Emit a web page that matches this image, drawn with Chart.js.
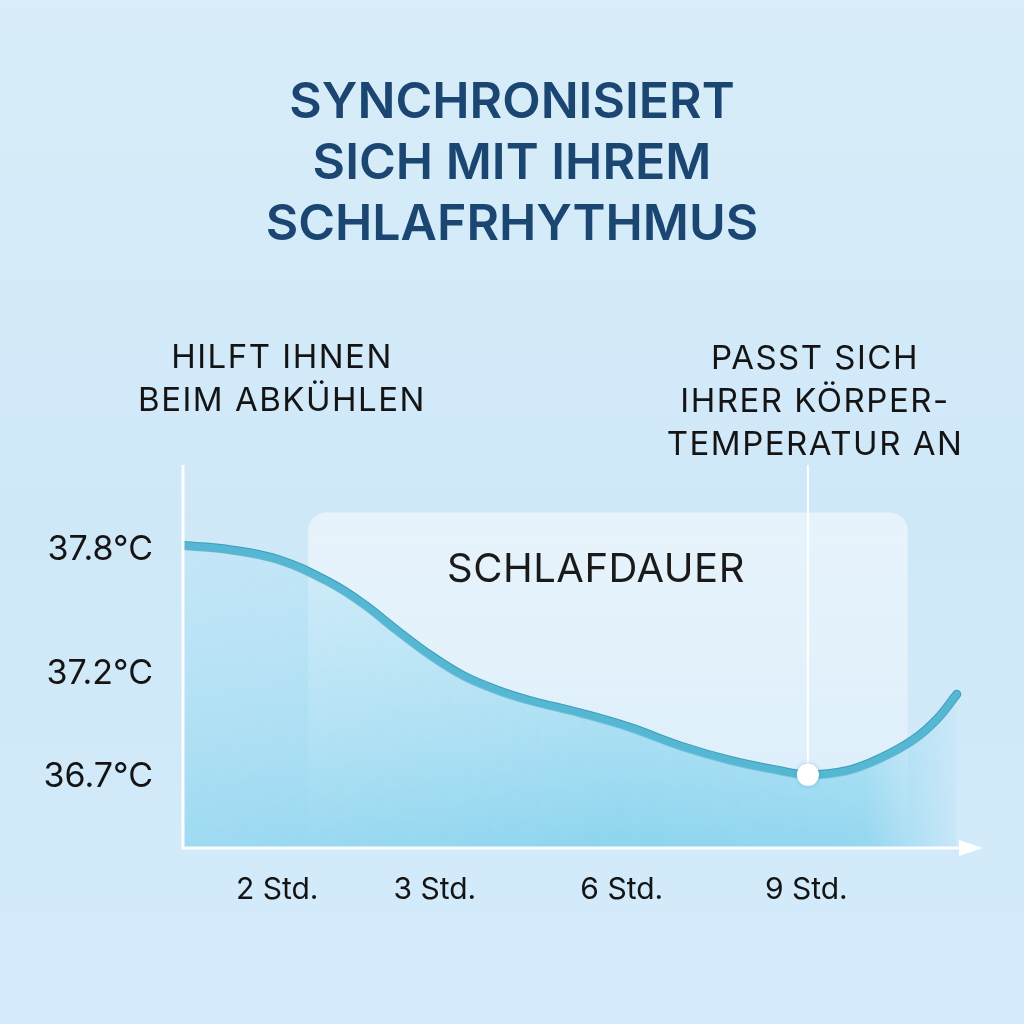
<!DOCTYPE html>
<html>
<head>
<meta charset="utf-8">
<script src="https://cdn.jsdelivr.net/npm/chart.js@4.4.1/dist/chart.umd.min.js"></script>
<style>
  html, body { margin: 0; padding: 0; background: #d3ebf9; }
  #chart { display: block; }
</style>
</head>
<body>
<canvas id="chart" width="1024" height="1024"></canvas>
<script>
// data
var titleLines = ['SYNCHRONISIERT', 'SICH MIT IHREM', 'SCHLAFRHYTHMUS'];
var leftNote = ['HILFT IHNEN', 'BEIM ABKÜHLEN'];
var rightNote = ['PASST SICH', 'IHRER KÖRPER-', 'TEMPERATUR AN'];
var boxLabel = 'SCHLAFDAUER';

var xTickPos = [1.19, 3.18, 5.54, 7.87];
var xTickLabels = ['2 Std.', '3 Std.', '6 Std.', '9 Std.'];
var yTicks = [37.8, 37.2, 36.7];

var timePos = [0, 0.59, 1.22, 1.86, 2.27, 2.70, 3.12, 3.54, 3.97, 4.38, 5.01, 5.64, 6.28, 6.91, 7.54, 7.89, 8.38, 8.80, 9.22, 9.52, 9.77];
var temps   = [37.82, 37.80, 37.75, 37.64, 37.54, 37.41, 37.29, 37.19, 37.12, 37.07, 37.01, 36.94, 36.85, 36.78, 36.73, 36.71, 36.73, 36.79, 36.88, 36.98, 37.10];
var markerIndex = 15;

var fontFamily = 'Inter, "Noto Sans", sans-serif';

var points = timePos.map(function(x, i){
    return { x: x, y: temps[i] };
});

// fill pattern: vertical gradient, faded out towards the right end
function makeFillPattern(){
    var c = document.createElement('canvas');
    c.width = 1024; c.height = 1024;
    var g = c.getContext('2d');
    var v = g.createLinearGradient(0, 540, 0, 860);
    v.addColorStop(0, 'rgba(175,225,245,0.45)');
    v.addColorStop(1, 'rgba(125,208,236,0.85)');
    g.fillStyle = v;
    g.fillRect(0, 0, 1024, 1024);
    g.globalCompositeOperation = 'destination-in';
    var h = g.createLinearGradient(183, 0, 975, 0);
    h.addColorStop(0, 'rgba(0,0,0,0.75)');
    h.addColorStop(0.55, 'rgba(0,0,0,1)');
    h.addColorStop(0.86, 'rgba(0,0,0,0.9)');
    h.addColorStop(1, 'rgba(0,0,0,0)');
    g.fillStyle = h;
    g.fillRect(0, 0, 1024, 1024);
    return document.getElementById('chart').getContext('2d').createPattern(c, 'no-repeat');
}

var backdrop = {
    id: 'backdrop',
    beforeDraw: function(chart){
        var ctx = chart.ctx;
        ctx.save();
        var bg = ctx.createLinearGradient(0, 0, 0, 1024);
        bg.addColorStop(0, '#d8edf9');
        bg.addColorStop(0.5, '#cfe8f8');
        bg.addColorStop(1, '#d3ebfa');
        ctx.fillStyle = bg;
        ctx.fillRect(0, 0, 1024, 1024);

        // title
        ctx.fillStyle = '#1b4672';
        ctx.font = '600 50px ' + fontFamily;
        ctx.textAlign = 'center';
        ctx.textBaseline = 'middle';
        titleLines.forEach(function(t, i){
            ctx.fillText(t, 512, 103 + i * 61);
        });

        // side notes
        ctx.fillStyle = '#141414';
        ctx.font = '400 33px ' + fontFamily;
        ctx.letterSpacing = '1.5px';
        leftNote.forEach(function(t, i){
            ctx.fillText(t, 282, 358 + i * 43);
        });
        rightNote.forEach(function(t, i){
            ctx.fillText(t, 815, 359 + i * 43);
        });

        // sleep duration box
        var xs = chart.scales.x, ys = chart.scales.y;
        var bx1 = xs.getPixelForValue(1.58), bx2 = xs.getPixelForValue(9.15);
        var by1 = ys.getPixelForValue(37.98), by2 = ys.getPixelForValue(36.36);
        var box = ctx.createLinearGradient(0, by1, 0, by2);
        box.addColorStop(0, 'rgba(255,255,255,0.5)');
        box.addColorStop(0.7, 'rgba(255,255,255,0.32)');
        box.addColorStop(1, 'rgba(255,255,255,0.05)');
        ctx.fillStyle = box;
        ctx.beginPath();
        ctx.roundRect(bx1, by1, bx2 - bx1, by2 - by1, 18);
        ctx.fill();
        ctx.fillStyle = '#1a1a1a';
        ctx.font = '400 40px ' + fontFamily;
        ctx.letterSpacing = '0.5px';
        ctx.fillText(boxLabel, 596, 570);
        ctx.restore();
    },
    afterDatasetsDraw: function(chart){
        var ctx = chart.ctx;
        var area = chart.chartArea;
        var xs = chart.scales.x, ys = chart.scales.y;
        ctx.save();
        // axes in white
        ctx.strokeStyle = 'rgba(255,255,255,0.95)';
        ctx.lineWidth = 3;
        ctx.beginPath();
        ctx.moveTo(area.left, area.top);
        ctx.lineTo(area.left, area.bottom);
        ctx.lineTo(area.right - 14, area.bottom);
        ctx.stroke();
        ctx.fillStyle = '#ffffff';
        ctx.beginPath();
        ctx.moveTo(area.right + 8, area.bottom);
        ctx.lineTo(area.right - 16, area.bottom - 8);
        ctx.lineTo(area.right - 16, area.bottom + 8);
        ctx.closePath();
        ctx.fill();

        // marker line
        var mx = xs.getPixelForValue(timePos[markerIndex]);
        var my = ys.getPixelForValue(temps[markerIndex]);
        ctx.lineWidth = 2;
        ctx.beginPath();
        ctx.moveTo(mx, area.top);
        ctx.lineTo(mx, my);
        ctx.stroke();
        ctx.beginPath();
        ctx.arc(mx, my, 11, 0, Math.PI * 2);
        ctx.fillStyle = '#ffffff';
        ctx.shadowColor = 'rgba(60,140,170,0.35)';
        ctx.shadowBlur = 4;
        ctx.fill();
        ctx.restore();
    }
};

var ctx = document.getElementById('chart').getContext('2d');

new Chart(ctx, {
    type: 'line',
    data: {
        datasets: [
            {
                data: points,
                borderColor: '#56b7d3',
                borderWidth: 7,
                tension: 0.4,
                fill: 'start',
                backgroundColor: makeFillPattern(),
                pointRadius: 0,
                borderCapStyle: 'round',
                order: 1
            },
            {
                data: points,
                borderColor: '#3a9dbb',
                borderWidth: 9,
                tension: 0.4,
                fill: false,
                pointRadius: 0,
                borderCapStyle: 'round',
                order: 2
            }
        ]
    },
    options: {
        responsive: false,
        animation: false,
        layout: { padding: { left: 0, top: 465, right: 49, bottom: 0 } },
        plugins: {
            legend: { display: false },
            tooltip: { enabled: false }
        },
        scales: {
            x: {
                type: 'linear',
                min: 0,
                max: 10,
                grid: { display: false, drawTicks: false },
                border: { display: false },
                afterBuildTicks: function(scale){
                    scale.ticks = xTickPos.map(function(v){ return { value: v }; });
                },
                afterFit: function(scale){ scale.height = 176; },
                ticks: {
                    padding: 24,
                    color: '#141414',
                    font: { family: fontFamily, size: 30 },
                    maxRotation: 0,
                    callback: function(v){
                        var i = xTickPos.indexOf(v);
                        return i >= 0 ? xTickLabels[i] : '';
                    }
                }
            },
            y: {
                type: 'linear',
                min: 36.356,
                max: 38.21,
                grid: { display: false, drawTicks: false },
                border: { display: false },
                afterBuildTicks: function(scale){
                    scale.ticks = yTicks.map(function(v){ return { value: v }; });
                },
                afterFit: function(scale){ scale.width = 183; },
                ticks: {
                    padding: 30,
                    color: '#141414',
                    font: { family: fontFamily, size: 34 },
                    callback: function(v){ return v.toFixed(1) + '°C'; }
                }
            }
        }
    },
    plugins: [backdrop]
});
</script>
</body>
</html>
